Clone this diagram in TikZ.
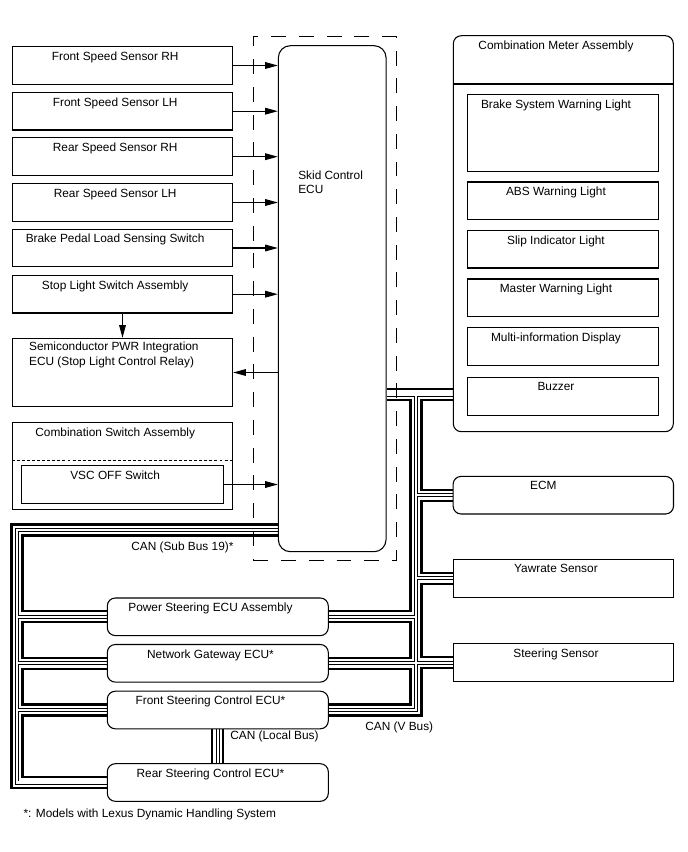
\documentclass[tikz,border=0pt]{standalone}
\usepackage{fontspec}
\setmainfont{Liberation Sans}
\usetikzlibrary{arrows.meta, positioning, calc, backgrounds}

\newlength\dpx
\setlength\dpx{0.75pt}

\tikzset{
    unitbox/.style={draw, line width=0.8pt, fill=white, inner sep=0pt,
        minimum width=220.4\dpx, minimum height=37.6\dpx},
    ecubox/.style={unitbox, rounded corners=6pt},
    ecuframe/.style={draw, line width=0.8pt, inner sep=0pt,
        dash pattern=on 11.2pt off 9.6pt},
    thindash/.style={line width=0.6pt, dash pattern=on 2.2pt off 1.6pt},
    textonly/.style={inner sep=0pt},
    tagtext/.style={anchor=north, inner sep=0pt, yshift=-4pt, xshift=-5.5pt},
    tag/.style={label={[tagtext]north:#1}},
    sig/.style={line width=0.8pt, -{Triangle[length=9.5pt,width=5pt]}},
    canhi/.style={line width=1.6pt},
    canouter/.style={line width=3pt},
    caninner/.style={line width=1.6pt, white}
}

\begin{document}
\begin{tikzpicture}[x=0.75pt, y=-0.75pt, font=\fontsize{8.9}{10.8}\selectfont]

    \useasboundingbox (0,0) rectangle (688,852);

    % inputs to the skid control ECU
    \node[unitbox, tag=Front Speed Sensor RH] (fsrh) at (122.5,65.5) {};
    \node[unitbox, tag=Front Speed Sensor LH] (fslh) at (122.5,111.2) {};
    \node[unitbox, tag=Rear Speed Sensor RH] (rsrh) at (122.5,156.7) {};
    \node[unitbox, tag=Rear Speed Sensor LH] (rslh) at (122.5,202.5) {};
    \node[unitbox, tag=Brake Pedal Load Sensing Switch] (bpls) at (122.5,248) {};
    \node[unitbox, tag=Stop Light Switch Assembly] (slsw) at (122.5,294.2) {};

    \node[unitbox, minimum height=68.4\dpx] (spwr) at (122.5,372.5) {};
    \node[textonly, align=left, anchor=north west] (spwr-t)
        at ([xshift=12.8pt,yshift=-3.2pt]spwr.north west)
        {Semiconductor PWR Integration\\ECU (Stop Light Control Relay)};

    \node[unitbox, minimum height=86.6\dpx, tag=Combination Switch Assembly] (cswa) at (122.5,466) {};
    \draw[thindash] (cswa.west |- 0,460.7) -- (cswa.east |- 0,460.7);
    \node[unitbox, minimum width=201.6\dpx, tag=VSC OFF Switch] (vsc) at (122.5,484.5) {};

    % skid control ECU
    \node[ecuframe, minimum width=142.7\dpx, minimum height=524\dpx] (frame) at (324.7,298.7) {};
    \node[unitbox, rounded corners=9pt, minimum width=107.7\dpx, minimum height=506\dpx] (ecu) at (332.2,298.7) {};
    \node[textonly, align=left, anchor=north west] (ecu-t) at (298,170.5) {Skid Control\\ECU};

    % combination meter
    \node[unitbox, rounded corners=6pt, minimum width=220\dpx, minimum height=396\dpx,
        tag=Combination Meter Assembly] (meter) at (563.3,233.7) {};
    \draw[line width=0.8pt] (meter.west |- 0,84) -- (meter.east |- 0,84);
    \node[unitbox, minimum width=191.3\dpx, minimum height=76.7\dpx,
        tag=Brake System Warning Light] (bswl) at (563.3,133.3) {};
    \node[unitbox, minimum width=191.3\dpx, tag=ABS Warning Light] (absl) at (563.3,200.8) {};
    \node[unitbox, minimum width=191.3\dpx, tag=Slip Indicator Light] (slip) at (563.3,249.2) {};
    \node[unitbox, minimum width=191.3\dpx, tag=Master Warning Light] (mwl) at (563.3,297.8) {};
    \node[unitbox, minimum width=191.3\dpx, tag=Multi-information Display] (mid) at (563.3,346.5) {};
    \node[unitbox, minimum width=191.3\dpx, tag=Buzzer] (buzz) at (563.3,396.5) {};

    \node[ecubox, label={[tagtext, xshift=-9.5pt]north:ECM}] (ecm) at (563.3,495.2) {};
    \node[unitbox, tag=Yawrate Sensor] (yaw) at (563.3,578.3) {};
    \node[unitbox, tag=Steering Sensor] (ss) at (563.3,662.5) {};

    % steering ECUs
    \node[ecubox, minimum width=221\dpx, tag=Power Steering ECU Assembly] (ps) at (217.8,616.8) {};
    \node[ecubox, minimum width=221\dpx, tag=Network Gateway ECU*] (ng) at (217.8,663.3) {};
    \node[ecubox, minimum width=221\dpx, tag=Front Steering Control ECU*] (fs) at (217.8,710) {};
    \node[ecubox, minimum width=221\dpx, tag=Rear Steering Control ECU*] (rs) at (217.8,782.5) {};

    \foreach \src in {fsrh,fslh,rsrh,rslh,bpls,slsw,vsc}
        \draw[sig] (\src.east) -- (ecu.west |- \src.east);
    \draw[sig] (ecu.west |- spwr.east) -- (spwr.east);
    \draw[sig] (slsw.south) -- (spwr.north);

    % bus levels and rails
    \coordinate (vhi) at (0,389);
    \coordinate (vmid) at (0,394.5);
    \coordinate (vlo) at (0,400);
    \coordinate (shi) at (0,524.5);
    \coordinate (smid) at (0,530);
    \coordinate (slo) at (0,535.5);
    \coordinate (sl) at (11.5,0);
    \coordinate (sc) at (17,0);
    \coordinate (sr) at (22.5,0);
    \coordinate (vl) at (410.5,0);
    \coordinate (vc) at (416,0);
    \coordinate (vr) at (421.5,0);
    \foreach \n in {ps,ng,fs,rs,ecm,yaw,ss}{
        \coordinate (\n-wu) at ([yshift=4.1pt]\n.west);
        \coordinate (\n-wl) at ([yshift=-4.1pt]\n.west);
        \coordinate (\n-eu) at ([yshift=4.1pt]\n.east);
        \coordinate (\n-el) at ([yshift=-4.1pt]\n.east);
    }

    \begin{scope}[on background layer]
        % CAN (Sub Bus 19)
        \draw[canhi] (ecu.west |- shi) -| (sl |- rs-wl) -- (rs-wl);
        \draw[canhi] (ecu.west |- slo) -| (sr |- ps-wu) -- (ps-wu);
        \draw[canhi] (ps-wl) -| (sr |- ng-wu) -- (ng-wu);
        \draw[canhi] (ng-wl) -| (sr |- fs-wu) -- (fs-wu);
        \draw[canhi] (fs-wl) -| (sr |- rs-wu) -- (rs-wu);
        % CAN (V Bus)
        \draw[canhi] (ecu.east |- vhi) -- (meter.west |- vhi);
        \draw[canhi] (ecu.east |- vlo) -| (vl |- ps-eu) -- (ps-eu);
        \draw[canhi] (ps-el) -| (vl |- ng-eu) -- (ng-eu);
        \draw[canhi] (ng-el) -| (vl |- fs-eu) -- (fs-eu);
        \draw[canhi] (fs-el) -| (vr |- ss-wl) -- (ss-wl);
        \draw[canhi] (ss-wu) -| (vr |- yaw-wl) -- (yaw-wl);
        \draw[canhi] (yaw-wu) -| (vr |- ecm-wl) -- (ecm-wl);
        \draw[canhi] (ecm-wu) -| (vr |- vlo) -- (meter.west |- vlo);
        % CAN (Local Bus)
        \draw[canhi] ([xshift=-4.1pt]fs.south) -- ([xshift=-4.1pt]rs.north);
        \draw[canhi] ([xshift=4.1pt]fs.south) -- ([xshift=4.1pt]rs.north);

        \foreach \pass in {canouter,caninner}{
            \draw[\pass] (ecu.west |- smid) -| (sc |- rs.west) -- (rs.west);
            \foreach \n in {ps,ng,fs}
                \draw[\pass] (sc |- \n.west) -- (\n.west);
            \draw[\pass] (ecu.east |- vmid) -- (meter.west |- vmid);
            \draw[\pass] (vc |- vmid) |- (fs.east);
            \draw[\pass] (vc |- ps.east) -- (ps.east);
            \draw[\pass] (ng.east) -- (ss.west |- ng.east);
            \foreach \n in {ecm,yaw}
                \draw[\pass] (vc |- \n.west) -- (\n.west);
            \draw[\pass] (fs.south) -- (rs.north);
        }
    \end{scope}

    \node[textonly, anchor=north west] (subbus) at (131,542) {CAN (Sub Bus 19)*};
    \node[textonly, anchor=north west] (vbus) at (365,722) {CAN (V Bus)};
    \node[textonly, anchor=north west] (localbus) at (230,731) {CAN (Local Bus)};
    \node[textonly, anchor=north west] (note) at (23.3,808.8) {*: Models with Lexus Dynamic Handling System};

\end{tikzpicture}
\end{document}
